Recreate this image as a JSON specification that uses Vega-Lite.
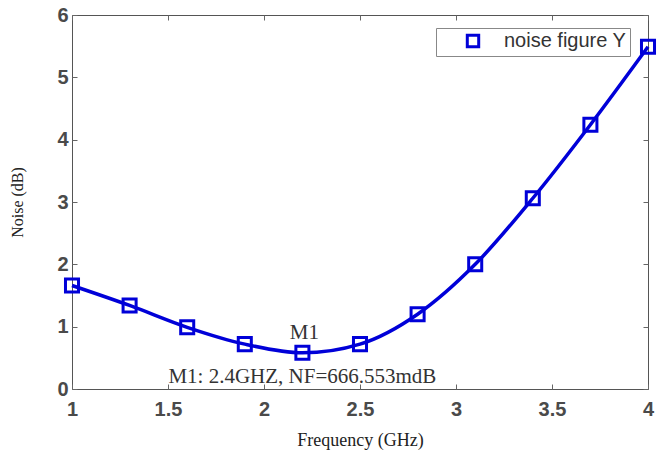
{
  "$schema": "https://vega.github.io/schema/vega-lite/v6.json",
  "width": 576,
  "height": 374,
  "autosize": "none",
  "padding": {"left": 72, "top": 15, "right": 11, "bottom": 68},
  "background": "white",
  "config": {
    "view": {"stroke": "#555", "strokeWidth": 1},
    "axis": {
      "grid": false,
      "domain": false,
      "tickColor": "#666",
      "tickSize": -5,
      "labelFont": "Liberation Sans",
      "labelFontWeight": "bold",
      "labelFontSize": 20,
      "labelColor": "#4a4a4a",
      "titleFont": "Liberation Serif",
      "titleFontWeight": "normal",
      "titleColor": "#222"
    }
  },
  "datasets": {
    "curve": [
      {"f": 1.0, "nf": 1.66, "series": "noise figure Y"},
      {"f": 1.3, "nf": 1.34, "series": "noise figure Y"},
      {"f": 1.6, "nf": 0.99, "series": "noise figure Y"},
      {"f": 1.9, "nf": 0.72, "series": "noise figure Y"},
      {"f": 2.2, "nf": 0.58, "series": "noise figure Y"},
      {"f": 2.5, "nf": 0.72, "series": "noise figure Y"},
      {"f": 2.8, "nf": 1.2, "series": "noise figure Y"},
      {"f": 3.1, "nf": 2.0, "series": "noise figure Y"},
      {"f": 3.4, "nf": 3.06, "series": "noise figure Y"},
      {"f": 3.7, "nf": 4.24, "series": "noise figure Y"},
      {"f": 4.0, "nf": 5.49, "series": "noise figure Y"}
    ],
    "notes": [
      {"f": 2.21, "nf": 0.9, "label": "M1"},
      {"f": 2.2, "nf": 0.19, "label": "M1: 2.4GHZ, NF=666.553mdB"}
    ]
  },
  "layer": [
    {
      "data": {"name": "curve"},
      "mark": {"type": "line", "interpolate": "monotone", "color": "#0000d8", "strokeWidth": 3.5},
      "encoding": {
        "x": {"field": "f", "type": "quantitative", "scale": {"domain": [1, 4], "nice": false},
          "axis": {"values": [1, 1.5, 2, 2.5, 3, 3.5, 4], "format": "~g", "title": "Frequency (GHz)", "titleFontSize": 18, "labelPadding": 15, "titlePadding": 12, "labelFlush": false}},
        "y": {"field": "nf", "type": "quantitative", "scale": {"domain": [0, 6], "nice": false},
          "axis": {"values": [0, 1, 2, 3, 4, 5, 6], "format": "~g", "title": "Noise (dB)", "titleFontSize": 16, "labelPadding": 9, "titlePadding": 31}}
      }
    },
    {
      "data": {"name": "curve"},
      "mark": {"type": "point", "shape": "square", "filled": false, "strokeWidth": 3, "size": 170, "opacity": 1},
      "encoding": {
        "x": {"field": "f", "type": "quantitative", "axis": {"orient": "top", "labels": false, "title": null, "values": [1, 1.5, 2, 2.5, 3, 3.5, 4]}},
        "y": {"field": "nf", "type": "quantitative", "axis": {"orient": "right", "labels": false, "title": null, "values": [0, 1, 2, 3, 4, 5, 6]}},
        "color": {"field": "series", "type": "nominal", "scale": {"range": ["#0000d8"]},
          "legend": {"title": null, "orient": "none", "legendX": 364, "legendY": 13, "strokeColor": "#888", "padding": 3,
            "labelFont": "Liberation Sans", "labelFontSize": 20, "labelColor": "#333", "symbolType": "square",
            "symbolSize": 130, "symbolStrokeWidth": 3, "symbolFillColor": "white", "symbolOffset": 24, "labelOffset": 21}}
      }
    },
    {
      "data": {"name": "notes"},
      "mark": {"type": "text", "font": "Liberation Serif", "fontSize": 21, "color": "#333", "baseline": "middle"},
      "encoding": {
        "x": {"field": "f", "type": "quantitative", "axis": null},
        "y": {"field": "nf", "type": "quantitative", "axis": null},
        "text": {"field": "label"}
      }
    }
  ],
  "resolve": {"axis": {"x": "independent", "y": "independent"}}
}
